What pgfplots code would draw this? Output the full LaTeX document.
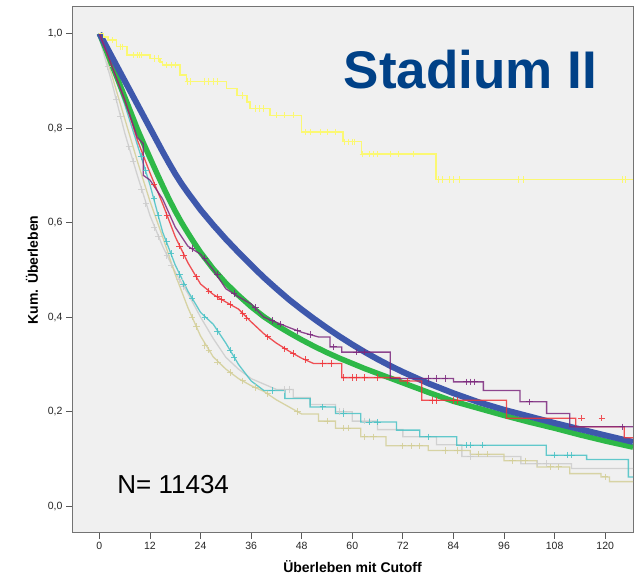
\documentclass[border=0pt]{standalone}
\usepackage{fontspec}
\setmainfont{Liberation Sans}
\usepackage{pgfplots}
\pgfplotsset{compat=1.18}
\definecolor{bgcol}{HTML}{F0F0F0}
\definecolor{cblue}{HTML}{3E58AC}
\definecolor{cgreen}{HTML}{2EB848}
\definecolor{ctan}{HTML}{D3CE97}
\definecolor{cpurple}{HTML}{7C287D}
\definecolor{cyellow}{HTML}{FBF873}
\definecolor{cred}{HTML}{EF3338}
\definecolor{ccyan}{HTML}{48C2C5}
\definecolor{cgray}{HTML}{CCCCCC}
\definecolor{ctitle}{RGB}{0,65,135}
\begin{document}
\begin{tikzpicture}
\fill[white] (-72pt,-46.3pt) rectangle (564pt,532.7pt);
\begin{axis}[
  at={(0,0)}, anchor=south west,
  scale only axis, width=561pt, height=525.7pt,
  xmin=-6.5, xmax=126.6, ymin=-0.056, ymax=1.056,
  xtick={0,12,24,36,48,60,72,84,96,108,120},
  ytick={0,0.2,0.4,0.6,0.8,1},
  tick align=outside, xtick pos=bottom, ytick pos=left,
  major tick length=6pt,
  tick style={draw=black!65, line width=0.8pt},
  axis background/.style={fill=bgcol},
  axis line style={draw=black!55, line width=1pt},
  y tick label style={/pgf/number format/.cd, fixed, fixed zerofill, precision=1, use comma},
  /pgf/number format/assume math mode=true,
  tick label style={font=\fontsize{10.5}{12}\selectfont, text=black!85},
  xlabel={Überleben mit Cutoff}, ylabel={Kum. Überleben},
  every axis x label/.style={at={(axis description cs:0.5,-0.0635)}, anchor=center, font=\bfseries\fontsize{14}{16}\selectfont},
  every axis y label/.style={at={(axis description cs:-0.0713,0.5)}, rotate=90, anchor=center, font=\bfseries\fontsize{14}{16}\selectfont},
  clip=true,
  thin/.style={line width=1.3pt, opacity=0.85},
  cens/.style={only marks, mark=+, mark size=3.2pt, line width=1pt, opacity=0.85},
]
% gray
\addplot[thin, cgray] coordinates {(0,0.99)(3,0.895)(6,0.79)(9,0.70)(12,0.615)(15,0.55)(18,0.495)(21,0.45)(24,0.40)(27,0.355)(30,0.315)(33,0.29)(36,0.27)(42,0.247)
 (46,0.247)(46,0.23)(50,0.23)(50,0.215)(56,0.215)(56,0.2)(60,0.2)(60,0.18)(66,0.18)(66,0.162)(72,0.162)(72,0.147)(80,0.147)(80,0.13)(86,0.13)(86,0.105)(100,0.105)(100,0.09)(112,0.09)(112,0.08)(126.6,0.08)};
\addplot[cens, cgray] coordinates {(2,0.93)(4,0.86)(5,0.825)(7,0.76)(8,0.73)(10,0.67)(11,0.64)(13,0.59)(14,0.57)(16,0.53)(17,0.51)(19,0.48)(20,0.465)(44,0.247)(45,0.247)(57,0.2)(58,0.2)(63,0.18)(64,0.18)(88,0.105)(104,0.09)(106,0.09)};
% tan
\addplot[thin, ctan] coordinates {(0,1)(3,0.91)(6,0.82)(9,0.73)(12,0.645)(15,0.57)(18,0.49)(21,0.42)(24,0.36)(27,0.316)(30,0.29)(33,0.27)(36,0.255)(39,0.243)(42,0.225)(45,0.21)(48,0.195)
 (52,0.195)(52,0.18)(56,0.18)(56,0.165)(62,0.165)(62,0.147)(68,0.147)(68,0.128)(78,0.128)(78,0.118)(88,0.118)(88,0.11)(96,0.11)(96,0.096)(103.8,0.096)(103.8,0.083)(111.6,0.083)(111.6,0.069)(119,0.069)(119,0.062)(121,0.062)(121,0.052)(126.6,0.052)};
\addplot[cens, ctan] coordinates {(22,0.40)(23,0.38)(25,0.34)(26,0.33)(28,0.305)(31,0.283)(34,0.265)(37,0.251)(40,0.238)(47,0.2)(54,0.18)(58,0.165)(59,0.165)(63,0.147)(65,0.147)(72,0.128)(74,0.128)(76,0.128)(82,0.118)(85,0.118)(90,0.11)(92,0.11)(98,0.096)(101,0.096)(107,0.083)(109,0.083)(120,0.062)};
% cyan
\addplot[thin, ccyan] coordinates {(0,1)(3,0.925)(6,0.85)(9,0.765)(12,0.68)(15,0.58)(18,0.51)(21,0.455)(24,0.41)(27,0.385)(30,0.345)(33,0.30)(36,0.265)(39,0.245)
 (44,0.245)(44,0.228)(50,0.228)(50,0.21)(56,0.21)(56,0.196)(62,0.196)(62,0.178)(70.5,0.178)(70.5,0.161)(76,0.161)(76,0.147)(84.8,0.147)(84.8,0.129)(106,0.129)(106,0.108)(115.6,0.108)(115.6,0.099)(125.5,0.099)(125.5,0.062)(126.6,0.062)};
\addplot[cens, ccyan] coordinates {(10,0.74)(11,0.71)(13,0.65)(14,0.615)(16,0.56)(17,0.535)(19,0.49)(20,0.47)(22,0.44)(25,0.40)(28,0.37)(31,0.33)(32,0.315)(41,0.245)(53,0.21)(58,0.196)(64,0.178)(66,0.178)(78,0.147)(87,0.129)(88,0.129)(91,0.129)(108,0.108)(111,0.108)(112,0.108)};
% green (thick band)
\addplot[cgreen, line width=5.5pt] coordinates {(0,1)(1.5,0.967)(3,0.933)(4.5,0.9)(6,0.866)(7.5,0.832)(9,0.798)(10.5,0.767)(12,0.737)(13.5,0.707)(15,0.678)(16.5,0.65)(18,0.624)(19.5,0.6)(21,0.578)(22.5,0.557)(24,0.537)(27,0.502)(30,0.472)(33,0.446)(36,0.422)(39,0.401)(42,0.383)(45,0.367)(48,0.352)(51,0.338)(54,0.325)(57,0.313)(60,0.302)(63,0.291)(66,0.281)(72,0.261)(78,0.241)(84,0.222)(90,0.207)(96,0.192)(102,0.178)(108,0.165)(114,0.151)(120,0.138)(126.6,0.125)};
% blue (thick band)
\addplot[cblue, line width=6pt] coordinates {(0,1)(1.5,0.975)(3,0.95)(4.5,0.925)(6,0.90)(7.5,0.875)(9,0.85)(10.5,0.825)(12,0.80)(13.5,0.775)(15,0.75)(16.5,0.726)(18,0.703)(19.5,0.682)(21,0.663)(22.5,0.645)(24,0.627)(27,0.595)(30,0.565)(33,0.537)(36,0.51)(39,0.484)(42,0.46)(45,0.437)(48,0.416)(51,0.396)(54,0.377)(57,0.359)(60,0.342)(63,0.326)(66,0.311)(69,0.297)(72,0.284)(78,0.26)(84,0.239)(90,0.22)(96,0.204)(102,0.19)(108,0.176)(114,0.163)(120,0.15)(126.6,0.136)};
% red
\addplot[thin, cred] coordinates {(0,1)(3,0.93)(6,0.86)(9,0.775)(12,0.705)(15,0.64)(18,0.57)(21,0.515)(24,0.47)(27,0.448)(30,0.432)(33,0.417)(36,0.39)(39,0.365)(42,0.345)(45,0.328)(48,0.313)(50.8,0.302)
 (57.5,0.302)(57.5,0.272)(71.3,0.272)(71.3,0.265)(76.5,0.265)(76.5,0.224)(96.6,0.224)(96.6,0.186)(113,0.186)(113,0.168)(124.5,0.168)(124.5,0.145)(126.6,0.145)};
\addplot[cens, cred] coordinates {(13,0.68)(16,0.615)(19,0.55)(20,0.53)(23,0.485)(26,0.455)(28,0.443)(29,0.437)(31,0.427)(34,0.408)(35,0.398)(40,0.358)(44,0.333)(46,0.323)(49,0.31)(53,0.302)(55,0.302)(58,0.272)(60,0.272)(61,0.272)(63,0.272)(66,0.272)(73,0.265)(79,0.224)(80,0.224)(84,0.224)(85,0.224)(114.4,0.186)(119.2,0.186)};
% purple
\addplot[thin, cpurple] coordinates {(0,1)(3,0.93)(6,0.86)(9,0.78)(10.4,0.767)(10.4,0.70)(12,0.69)(15,0.65)(18,0.59)(21,0.55)(24,0.533)(27,0.50)(30,0.46)(33,0.443)(36,0.428)(39,0.40)(42,0.389)(45,0.378)(48,0.368)(52,0.358)
 (54.7,0.358)(54.7,0.337)(57.5,0.337)(57.5,0.326)(69,0.326)(69,0.27)(84,0.27)(84,0.263)(91.1,0.263)(91.1,0.245)(99.8,0.245)(99.8,0.221)(106.1,0.221)(106.1,0.196)(111.6,0.196)(111.6,0.168)(126.6,0.168)};
\addplot[cens, cpurple] coordinates {(22,0.545)(25,0.525)(28,0.49)(32,0.45)(37,0.42)(41,0.393)(43,0.385)(47,0.371)(50,0.363)(55.5,0.337)(61,0.326)(63,0.326)(78,0.27)(80,0.27)(82,0.27)(87,0.263)(88,0.263)(89,0.263)(102,0.221)(124,0.168)};
% yellow
\addplot[line width=1.5pt, cyellow, const plot] coordinates {(0,1)(1,0.993)(2.1,0.986)(4.1,0.972)(6.5,0.954)(12,0.947)(14.4,0.94)(15,0.933)(19.1,0.912)(20.7,0.898)(30.2,0.884)(32.6,0.869)(35,0.855)(35.7,0.841)(40.5,0.827)(48,0.792)(57.8,0.771)(62.2,0.745)(79.9,0.691)(126.6,0.691)};
\addplot[cens, cyellow, opacity=1] coordinates {(3,0.986)(5,0.972)(5.5,0.972)(8,0.954)(9,0.954)(9.5,0.954)(10,0.954)(13,0.947)(14,0.947)(16,0.933)(17,0.933)(18,0.933)(21,0.898)(21.5,0.898)(25,0.898)(26,0.898)(27,0.898)(28,0.898)(34,0.869)(37,0.841)(38,0.841)(39,0.841)(42,0.827)(44,0.827)(46,0.827)(49,0.792)(50,0.792)(52.5,0.792)(54,0.792)(56,0.792)(58.2,0.771)(59,0.771)(60,0.771)(60.5,0.771)(62.5,0.745)(64,0.745)(65,0.745)(66,0.745)(69,0.745)(71,0.745)(74.5,0.745)(80.5,0.691)(81.5,0.691)(83,0.691)(84,0.691)(85.5,0.691)(99.5,0.691)(100.5,0.691)(124,0.691)(124.7,0.691)};
% texts
\node[anchor=base, font=\bfseries\fontsize{53}{60}\selectfont, text=ctitle] at (axis cs:88,0.884) {Stadium II};
\node[anchor=base, font=\fontsize{26}{30}\selectfont] at (axis cs:17.5,0.0275) {N= 11434};
\end{axis}
\pgfresetboundingbox
\path[use as bounding box] (-72pt,-46.3pt) rectangle (564pt,532.7pt);
\end{tikzpicture}
\end{document}
